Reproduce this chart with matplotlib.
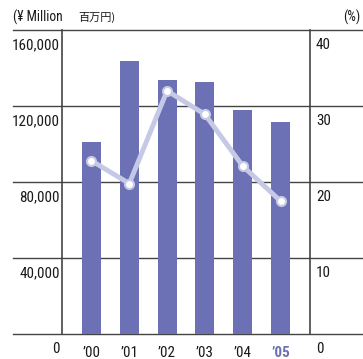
import matplotlib
matplotlib.use("Agg")
import matplotlib.pyplot as plt
from matplotlib import font_manager
from matplotlib.transforms import blended_transform_factory

# net sales (¥ million) and ratio (%) by fiscal year
years = ["’00", "’01", "’02", "’03", "’04", "’05"]
sales = [101000, 143700, 133700, 132600, 117900, 111600]
ratio = [22.8, 19.8, 32.0, 28.9, 22.1, 17.5]
left_ticks = [0, 40000, 80000, 120000, 160000]
left_labels = ["0", "40,000", "80,000", "120,000", "160,000"]
right_labels = ["0", "10", "20", "30", "40"]

BAR = "#6b71b4"
LINE = "#c6c9e6"
GRID = "#444444"
TEXT = "#1a1a1a"

installed = {f.name for f in font_manager.fontManager.ttflist}
base = next((n for n in ["Roboto Condensed", "Archivo Narrow", "PT Sans Narrow",
                         "Liberation Sans Narrow", "Liberation Sans"] if n in installed), "DejaVu Sans")
plt.rcParams["font.family"] = [base, "Noto Sans CJK JP", "DejaVu Sans"]

W, H = 363, 359
fig = plt.figure(figsize=(W / 100, H / 100), dpi=100)

# size the labels so "120,000" comes out about 47 px wide
probe = fig.text(0, 0, "120,000", fontsize=10)
w = probe.get_window_extent(fig.canvas.get_renderer()).width
probe.remove()
fs = min(11.5, 10 * 47 / w)

ax = fig.add_axes([62 / W, (H - 334) / H, (310 - 62) / W, 304 / H])
ax.set_xlim(-0.78, 5.78)
ax.set_ylim(0, 160000)
ax.axis("off")

x = list(range(len(years)))
ax.bar(x, sales, width=0.5, color=BAR, zorder=2)

ax2 = ax.twinx()
ax2.set_ylim(0, 40)
ax2.axis("off")
ax2.plot(x, ratio, color=LINE, lw=3.5, zorder=3, solid_capstyle="round")
ax2.plot(x, ratio, ls="none", marker="o", ms=6.5, mfc="white", mec=LINE, mew=1.5, zorder=4)

# horizontal rules run across the full width of the figure
tr = blended_transform_factory(fig.transFigure, ax.transData)
for v in left_ticks:
    ax.plot([13 / W, 1.0], [v, v], color=GRID, lw=1.0, transform=tr, clip_on=False, zorder=1)

# vertical frame lines
for xv in (-0.78, 5.78):
    ax.plot([xv, xv], [0, 160000], color=GRID, lw=1.2, clip_on=False, zorder=1)

# axis labels sit just below their rule
for v, lab, rl in zip(left_ticks, left_labels, right_labels):
    line_px = 334 - v / 160000 * 304
    ypos = (H - line_px - 8) / H
    fig.text(60 / W, ypos, lab, ha="right", va="top", fontsize=fs, color=TEXT)
    fig.text(316 / W, ypos, rl, ha="left", va="top", fontsize=fs, color=TEXT)

for i, lab in enumerate(years):
    last = i == len(years) - 1
    ax.text(i, (H - 346) / H, lab, transform=blended_transform_factory(ax.transData, fig.transFigure),
            ha="center", va="top", fontsize=fs,
            color=BAR if last else TEXT, fontweight="bold" if last else "normal")

# unit captions
ty = (H - 17) / H
fig.text(13 / W, ty, "(¥ Million", ha="left", va="center", fontsize=fs * 0.9, color=TEXT)
fig.text(78 / W, ty, "百万円)", ha="left", va="center", fontsize=8, color=TEXT,
         family=["Noto Sans CJK JP", base])
fig.text(360 / W, ty, "(%)", ha="right", va="center", fontsize=fs * 0.9, color=TEXT)

fig.savefig("out.png", dpi=100)
